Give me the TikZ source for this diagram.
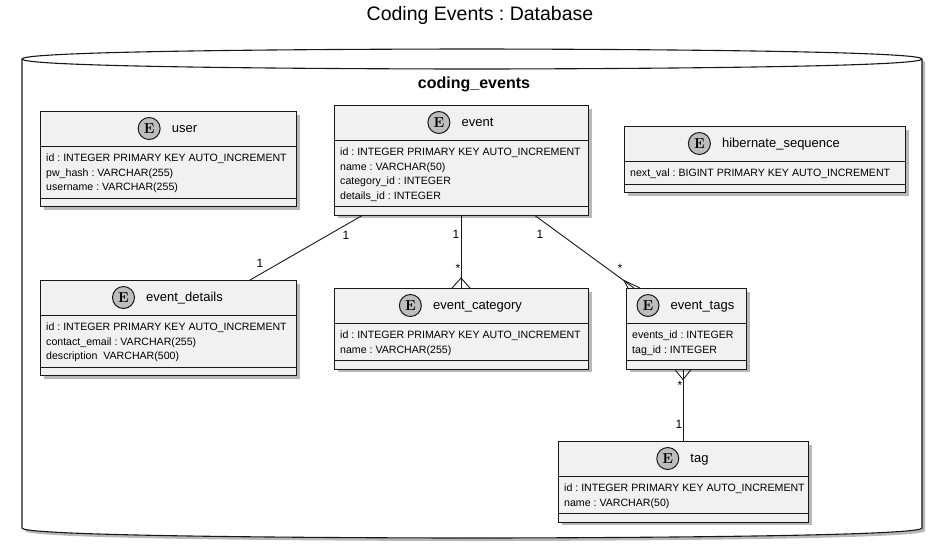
\documentclass[tikz,border=0pt]{standalone}
\usepackage{fontspec}
\setmainfont{Liberation Sans}
\newfontfamily\circfont{Latin Modern Roman}
\frenchspacing
\usetikzlibrary{shadows,calc,positioning}
\definecolor{boxfill}{HTML}{F1F1F1}
\definecolor{lin}{HTML}{181818}
\definecolor{circfill}{HTML}{BDBDBD}
\tikzset{
  entbox/.style={draw=lin, line width=1.1pt, fill=boxfill, inner sep=0pt,
    drop shadow={shadow xshift=3pt, shadow yshift=-3pt, fill=black, opacity=0.28}},
  divider/.style={draw=lin, line width=1pt},
  etitle/.style={inner sep=0pt, font=\fontsize{13}{15}\selectfont, text height=9.5pt, text depth=2.5pt},
  ecirc/.style={circle, draw=lin, line width=1pt, fill=circfill, minimum size=22pt, inner sep=0pt,
    font=\circfont\bfseries\fontsize{14.5}{14.5}\selectfont},
  attrs/.style={inner sep=0pt, align=left, font=\fontsize{10.6}{14.5}\selectfont},
  conn/.style={draw=lin, line width=0.9pt},
  mult/.style={inner sep=0pt, font=\fontsize{12}{12}\selectfont},
  dbshape/.style={draw=lin, line width=1.1pt, fill=white,
    drop shadow={shadow xshift=3pt, shadow yshift=-3pt, fill=black, opacity=0.28}},
}
\newcommand\entity[7]{% name, x, y, w, nlines, title, attrs
  \pgfmathsetmacro\eh{66+(#5-1)*14.5}
  \node[entbox, minimum width=#4pt, minimum height=\eh pt, anchor=north west] (#1) at (#2,#3) {};
  \draw[divider] (#2,#3+35) -- ++(#4,0);
  \draw[divider] (#2,#3+\eh-8) -- ++(#4,0);
  \node[etitle] (#1-t) at (#2+#4/2+16.5,#3+17.5) {#6};
  \node[ecirc, left=11pt of #1-t] (#1-c) {E};
  \node[attrs, anchor=north west] (#1-a) at (#2+6,#3+43) {#7};
}
\begin{document}
\begin{tikzpicture}[x=1pt,y=-1pt]
\useasboundingbox (0,0) rectangle (936,550);
% title
\node[inner sep=0pt, font=\fontsize{19.5}{22}\selectfont] (title) at (480,15) {Coding Events : Database};
% database cylinder
\path[dbshape] (22,59) -- (22,528) .. controls (22,538) and (472,538) .. (472,538)
  .. controls (472,538) and (922,538) .. (922,528) -- (922,59)
  .. controls (922,49) and (472,49) .. (472,49)
  .. controls (472,49) and (22,49) .. (22,59) -- cycle;
\draw[draw=lin, line width=1.1pt] (22,59) .. controls (22,69) and (472,69) .. (472,69)
  .. controls (472,69) and (922,69) .. (922,59);
\node[inner sep=0pt, font=\bfseries\fontsize{16}{18}\selectfont] (db) at (474,84) {coding\_events};
% entities
\entity{user}{40}{111}{256}{3}{user}{id : INTEGER PRIMARY KEY AUTO\_INCREMENT\\pw\_hash : VARCHAR(255)\\username : VARCHAR(255)}
\entity{event}{334}{105}{254}{4}{event}{id : INTEGER PRIMARY KEY AUTO\_INCREMENT\\name : VARCHAR(50)\\category\_id : INTEGER\\details\_id : INTEGER}
\entity{hib}{624}{126}{281}{1}{hibernate\_sequence}{next\_val : BIGINT PRIMARY KEY AUTO\_INCREMENT}
\entity{evd}{40}{280}{256}{3}{event\_details}{id : INTEGER PRIMARY KEY AUTO\_INCREMENT\\contact\_email : VARCHAR(255)\\description\ \ VARCHAR(500)}
\entity{evc}{334}{288}{254}{2}{event\_category}{id : INTEGER PRIMARY KEY AUTO\_INCREMENT\\name : VARCHAR(255)}
\entity{evt}{626}{288}{120}{2}{event\_tags}{events\_id : INTEGER\\tag\_id : INTEGER}
\entity{tag}{558}{441}{250}{2}{tag}{id : INTEGER PRIMARY KEY AUTO\_INCREMENT\\name : VARCHAR(50)}
% connectors
% event -- event_details
\coordinate (c1a) at ($(event.south west)+(28,0)$);
\coordinate (c1b) at ($(evd.north west)+(210,0)$);
\draw[conn] (c1a) -- (c1b);
\node[mult] (m1a) at (346,235) {1};
\node[mult] (m1b) at (260,263) {1};
% event -- event_category
\coordinate (c2a) at ($(event.south west)+(127,0)$);
\coordinate (c2b) at ($(evc.north west)+(127,0)$);
\coordinate (c2f) at ($(c2b)+(0,-10)$);
\draw[conn] (c2a) -- (c2b);
\draw[conn] ($(c2b)+(-9,0)$) -- (c2f) -- ($(c2b)+(9,0)$);
\node[mult] (m2a) at (456,234) {1};
\node[mult] (m2b) at (458,268) {*};
% event -- event_tags
\coordinate (c3a) at ($(event.south west)+(201,0)$);
\coordinate (c3b) at ($(evt.north west)+(8,0)$);
\coordinate (c3f) at (624,280.5);
\draw[conn] (c3a) -- (c3b);
\draw[conn] ($(evt.north west)+(2,0)$) -- (c3f) -- ($(evt.north west)+(14,0)$);
\node[mult] (m3a) at (540,234) {1};
\node[mult] (m3b) at (620,268) {*};
% event_tags -- tag
\coordinate (c4a) at ($(evt.south west)+(57,0)$);
\coordinate (c4b) at ($(tag.north west)+(125,0)$);
\coordinate (c4f) at ($(c4a)+(0,10)$);
\draw[conn] (c4a) -- (c4b);
\draw[conn] ($(c4a)+(-8,0)$) -- (c4f) -- ($(c4a)+(8,0)$);
\node[mult] (m4a) at (680,385) {*};
\node[mult] (m4b) at (679,424) {1};
\end{tikzpicture}
\end{document}
